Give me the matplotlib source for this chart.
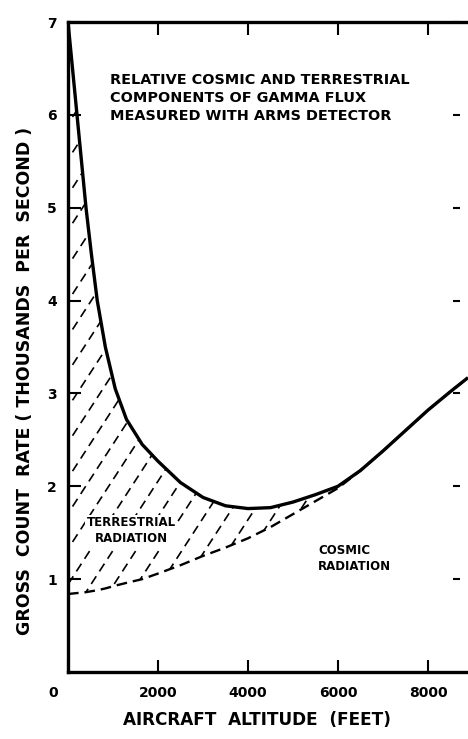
import matplotlib
matplotlib.use('Agg')
import matplotlib.pyplot as plt
import numpy as np
from matplotlib.transforms import ScaledTranslation

# ---- data (altitude in feet, count rate in thousands per second) ----
altitude = [0, 100, 200, 300, 400, 520, 650, 830, 1050, 1300, 1650, 2000, 2500,
            3000, 3500, 4000, 4500, 5000, 5500, 6000, 6500, 7000, 7500, 8000, 8500, 8890]
total = [7.0, 6.5, 6.0, 5.5, 5.0, 4.5, 4.0, 3.5, 3.05, 2.72, 2.45, 2.27, 2.04,
         1.88, 1.79, 1.76, 1.77, 1.83, 1.91, 2.0, 2.17, 2.38, 2.60, 2.82, 3.02, 3.17]
cosmic = [0.84, 0.845, 0.85, 0.855, 0.86, 0.87, 0.88, 0.90, 0.93, 0.96, 1.0, 1.06, 1.15,
          1.25, 1.34, 1.44, 1.56, 1.70, 1.84, 1.98, 2.17, 2.38, 2.60, 2.82, 3.02, 3.17]

x_ticks = [0, 2000, 4000, 6000, 8000]
x_ticklabels = ['0', '2000', '4000', '6000', '8000']
y_ticks = [1, 2, 3, 4, 5, 6, 7]
y_ticklabels = ['1', '2', '3', '4', '5', '6', '7']

title_text = "RELATIVE COSMIC AND TERRESTRIAL\nCOMPONENTS OF GAMMA FLUX\nMEASURED WITH ARMS DETECTOR"
terr_text = "TERRESTRIAL\nRADIATION"
cosm_text = "COSMIC\nRADIATION"
xlabel = "AIRCRAFT  ALTITUDE  (FEET)"
ylabel = "GROSS  COUNT  RATE ( THOUSANDS  PER  SECOND )"

plt.rcParams['font.family'] = ['DejaVu Sans']
plt.rcParams['font.weight'] = 'bold'

fig = plt.figure(figsize=(4.68, 7.39), dpi=100)
ax = fig.add_axes([68/468, 1 - 672/739, 400/468, 650/739])
ax.set_xlim(0, 8890)
ax.set_ylim(0, 7)

x = np.array(altitude, dtype=float)
t = np.array(total)
c = np.array(cosmic)

# terrestrial region (between cosmic and total), used as clip path for hatching
poly = ax.fill_between(x, c, t, facecolor='none', edgecolor='none')
clip_path = poly.get_paths()[0]

# dashed diagonal hatch lines in pixel geometry
px_per_ft = 400 / 8890
px_per_unit = 650 / 7
slope = np.tan(np.radians(57)) * px_per_ft / px_per_unit  # data units per ft
spacing_ft = 23 / px_per_ft
for x0 in np.arange(-12000, 9000, spacing_ft):
    xs = np.array([x0, x0 + 12000])
    ys = slope * (xs - x0)
    ln, = ax.plot(xs, ys, color='black', lw=1.2, dashes=(5.5, 3.5), zorder=2)
    ln.set_clip_path(clip_path, ax.transData)

ax.plot(x, c, color='black', lw=1.7, dashes=(4.5, 2.5), zorder=3)
ax.plot(x, t, color='black', lw=2.4, zorder=4, solid_capstyle='butt', solid_joinstyle='round')

# spines
for s in ['left', 'top', 'bottom']:
    ax.spines[s].set_linewidth(2.4)
ax.spines['right'].set_position(('data', 8711))
ax.spines['right'].set_linewidth(0)

ax.set_xticks(x_ticks)
ax.set_xticklabels(x_ticklabels)
ax.set_yticks(y_ticks)
ax.set_yticklabels(y_ticklabels)
ax.tick_params(axis='x', direction='in', length=9, width=1.5, top=True, bottom=True,
               labelsize=10, pad=10)
ax.tick_params(axis='y', direction='in', length=9, width=1.5, left=True, right=True,
               labelsize=10, pad=8)
for tl in ax.yaxis.get_ticklines()[1::2]:
    tl.set_markersize(5)

# shift the 0 label left as in the original
lbl0 = ax.get_xticklabels()[0]
lbl0.set_transform(lbl0.get_transform() + ScaledTranslation(-15/100, 0, fig.dpi_scale_trans))

ax.text(933, 6.45, title_text, fontsize=10.4, fontweight='bold', va='top', ha='left',
        linespacing=1.35)
ax.text(1400, 1.52, terr_text, fontsize=8.5, fontweight='bold', va='center', ha='center',
        linespacing=1.3, zorder=5,
        bbox=dict(facecolor='white', edgecolor='none', pad=1.0))
ax.text(5556, 1.22, cosm_text, fontsize=8.5, fontweight='bold', va='center', ha='left',
        linespacing=1.3)

fig.text(257/468, 1 - 720/739, xlabel, fontsize=12.2, fontweight='bold', ha='center', va='center')
fig.text(25/468, 1 - 381/739, ylabel, fontsize=12.5, fontweight='bold', ha='center', va='center',
         rotation=90)

fig.savefig('out.png', dpi=100)
